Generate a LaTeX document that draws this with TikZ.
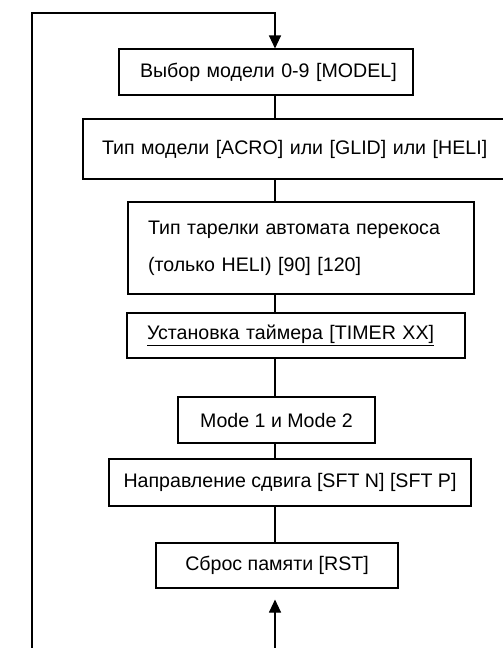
\documentclass[tikz,border=0pt]{standalone}
\usepackage{fontspec}
\setmainfont{Liberation Sans}
\usetikzlibrary{arrows.meta,calc,positioning}

\begin{document}
\begin{tikzpicture}[x=1pt,y=-1pt,>={Triangle[length=13pt,width=12pt]},line width=1.1pt,
  box/.style={draw, inner sep=0pt, align=left, font=\fontsize{19.6}{37}\selectfont}]
\useasboundingbox (0,0) rectangle (503,648);
\clip (0,0) rectangle (503,648);
\coordinate (spine) at (275,0);

\node[box, minimum width=294pt, minimum height=46pt, text width=252pt] (model) at (266,72) {\mbox{Выбор модели 0-9 [MODEL]}};
\node[box, minimum width=428pt, minimum height=60pt, text width=390pt] (type) at (297,149) {\mbox{Тип модели [ACRO] или [GLID] или [HELI]}};
\node[box, minimum width=346pt, minimum height=92pt, text width=306pt] (swash) at (301,248) {Тип тарелки автомата перекоса\\(только HELI) [90] [120]};
\node[box, minimum width=338pt, minimum height=45pt, text width=298pt] (timer) at (296,335.5) {\mbox{\underline{Установка таймера [TIMER XX]}}};
\node[box, minimum width=197pt, minimum height=46pt] (mode) at (276.5,420) {Mode 1 и Mode 2};
\node[box, minimum width=362pt, minimum height=47pt] (dir) at (290,482.5) {Направление сдвига [SFT N] [SFT P]};
\node[box, minimum width=242pt, minimum height=45pt] (reset) at (277,565.5) {Сброс памяти [RST]};

\draw (model.south -| spine) -- (type.north -| spine);
\draw (type.south -| spine) -- (swash.north -| spine);
\draw (swash.south -| spine) -- (timer.north -| spine);
\draw (timer.south -| spine) -- (mode.north -| spine);
\draw (mode.south -| spine) -- (dir.north -| spine);
\draw (dir.south -| spine) -- (reset.north -| spine);

% return loop
\coordinate (br) at (275,670);
\coordinate (bl) at (32,670);
\coordinate (tl) at (32,13);
\coordinate (tr) at (275,13);
\draw[<->, shorten <=11pt] (reset.south -| spine) -- (br) -- (bl) -- (tl) -- (tr) -- (model.north -| spine);
\end{tikzpicture}
\end{document}
